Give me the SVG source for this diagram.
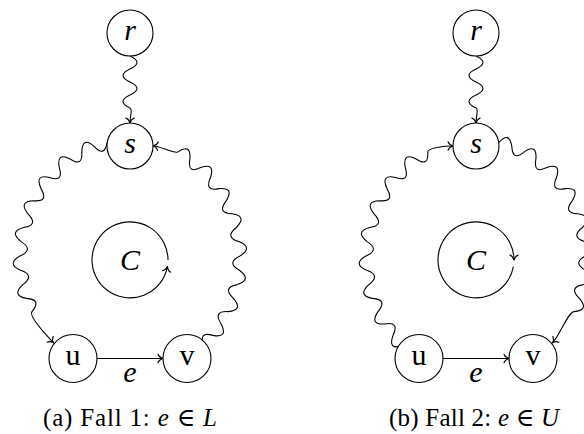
<svg xmlns="http://www.w3.org/2000/svg" width="584" height="434" viewBox="0 0 584 434">
<style>
.node circle{fill:#fff;stroke:#000;stroke-width:1.1}
.lbl{font-family:"Liberation Serif","DejaVu Serif",serif;font-size:30px;text-anchor:middle;fill:#000}
.it{font-style:italic}
.edge{fill:none;stroke:#000;stroke-width:1.1;marker-end:url(#arr)}
.cap{font-family:"Liberation Serif","DejaVu Serif",serif;font-size:25px;text-anchor:middle;fill:#000}
</style>
<defs>
<marker id="arr" markerUnits="userSpaceOnUse" viewBox="-7 -6 9 12" markerWidth="9" markerHeight="12" refX="0" refY="0" orient="auto" overflow="visible">
<path d="M -5,-4.2 C -4.2,-2 -1.8,-0.5 0,0 C -1.8,0.5 -4.2,2 -5,4.2" fill="none" stroke="#000" stroke-width="1.1" stroke-linecap="round" stroke-linejoin="round"/>
</marker>
</defs>
<g id="connectors">
<path class="edge" d="M 130,56 Q 144,62.5 130,69 Q 116,75.5 130,82 Q 144,88.5 130,95 Q 116,101.5 130,108 C 133,109.5 130,115 130,123"/>
<path class="edge" d="M 107.1,142.6 Q 104.3,157.8 94.2,146.4 Q 82.5,136.0 81.8,151.9 Q 82.7,167.5 70.1,159.0 Q 56.2,151.9 59.3,167.6 Q 63.9,182.6 49.5,177.5 Q 34.3,174.0 41.0,188.6 Q 49.0,202.1 33.8,200.8 Q 18.1,201.2 28.0,213.8 Q 39.0,225.0 23.7,227.5 Q 8.5,231.7 21.1,241.6 Q 34.3,249.8 20.0,255.9 Q 6.1,263.8 20.6,270.3 Q 35.3,275.2 22.8,284.6 Q 11.1,295.5 26.6,298.4 Q 42.0,299.5 32.0,311.6 C 28.5,316 47,336 53.6,342.9"/>
<path class="edge" d="M 203.6,345.7 Q 198.5,330.9 213.0,335.4 Q 228.4,338.4 221.2,324.0 Q 212.7,310.8 228.0,311.6 Q 243.7,310.6 233.4,298.4 Q 222.0,287.5 237.2,284.6 Q 252.3,279.8 239.4,270.3 Q 225.9,262.5 240.0,255.9 Q 253.6,247.6 238.9,241.6 Q 224.1,237.3 236.3,227.5 Q 247.6,216.1 232.0,213.8 Q 216.6,213.2 226.2,200.8 Q 234.6,187.1 219.0,188.6 Q 204.1,191.8 210.5,177.5 Q 215.4,162.2 200.7,167.6 Q 187.1,174.4 189.9,159.0 Q 191.1,143.1 178.2,151.9 C 174.9,154.2 161,146.5 153,145.8"/>
<path class="edge" d="M 97,358.5 L 163,358.5"/>
<path class="edge" d="M 168,260 A 38,38 0 1 0 167.4,266.6"/>
<path class="edge" d="M 476,56 Q 490,62.5 476,69 Q 462,75.5 476,82 Q 490,88.5 476,95 Q 462,101.5 476,108 C 479,109.5 476,115 476,123"/>
<path class="edge" d="M 402.4,345.7 Q 387.6,350.5 393.0,335.4 Q 399.8,321.3 384.8,324.0 Q 369.2,325.0 378.0,311.6 Q 388.0,299.5 372.6,298.4 Q 357.1,295.5 368.8,284.6 Q 381.3,275.2 366.6,270.3 Q 352.1,263.8 366.0,255.9 Q 380.3,249.8 367.1,241.6 Q 354.5,231.7 369.7,227.5 Q 385.0,225.0 374.0,213.8 Q 364.1,201.2 379.8,200.8 Q 395.0,202.1 387.0,188.6 Q 380.3,174.0 395.5,177.5 Q 409.9,182.6 405.3,167.6 Q 402.2,151.9 416.1,159.0 Q 428.7,167.5 427.8,151.9 C 427.7,148 444,146 453,146"/>
<path class="edge" d="M 498.9,142.6 Q 509.1,130.8 511.8,146.4 Q 512.7,161.9 524.2,151.9 Q 537.1,143.1 535.9,159.0 Q 533.1,174.4 546.7,167.6 Q 561.4,162.2 556.5,177.5 Q 550.1,191.8 565.0,188.6 Q 580.6,187.1 572.2,200.8 Q 562.6,213.2 578.0,213.8 Q 593.6,216.1 582.3,227.5 Q 570.1,237.3 584.9,241.6 Q 599.6,247.6 586.0,255.9 Q 571.9,262.5 585.4,270.3 Q 598.3,279.8 583.2,284.6 Q 568.0,287.5 579.4,298.4 Q 589.7,310.6 574.0,311.6 C 568,312 560,335 552.4,342.9"/>
<path class="edge" d="M 443,358.5 L 509,358.5"/>
<path class="edge" d="M 513.4,266.6 A 38,38 0 1 1 514,260"/>
</g>
<g id="a-r" class="node"><circle cx="130" cy="33" r="23"/><text class="lbl it" x="130" y="40">r</text></g>
<g id="a-s" class="node"><circle cx="130" cy="146" r="23"/><text class="lbl it" x="130" y="153">s</text></g>
<g id="a-u" class="node"><circle cx="73" cy="358.5" r="24"/><text class="lbl" x="73" y="365">u</text></g>
<g id="a-v" class="node"><circle cx="187" cy="358.5" r="24"/><text class="lbl" x="187" y="365">v</text></g>
<g id="a-C"><text class="lbl it" x="130" y="270">C</text></g>
<g id="a-e"><text class="lbl it" x="130" y="382">e</text></g>
<g id="b-r" class="node"><circle cx="476" cy="33" r="23"/><text class="lbl it" x="476" y="40">r</text></g>
<g id="b-s" class="node"><circle cx="476" cy="146" r="23"/><text class="lbl it" x="476" y="153">s</text></g>
<g id="b-u" class="node"><circle cx="419" cy="358.5" r="24"/><text class="lbl" x="419" y="365">u</text></g>
<g id="b-v" class="node"><circle cx="533" cy="358.5" r="24"/><text class="lbl" x="533" y="365">v</text></g>
<g id="b-C"><text class="lbl it" x="476" y="270">C</text></g>
<g id="b-e"><text class="lbl it" x="476" y="382">e</text></g>
<text class="cap" x="130" y="426" textLength="174" lengthAdjust="spacing">(a) Fall 1: <tspan class="it">e</tspan> ∈ <tspan class="it">L</tspan></text>
<text class="cap" x="474" y="426" textLength="170" lengthAdjust="spacing">(b) Fall 2: <tspan class="it">e</tspan> ∈ <tspan class="it">U</tspan></text>
</svg>
